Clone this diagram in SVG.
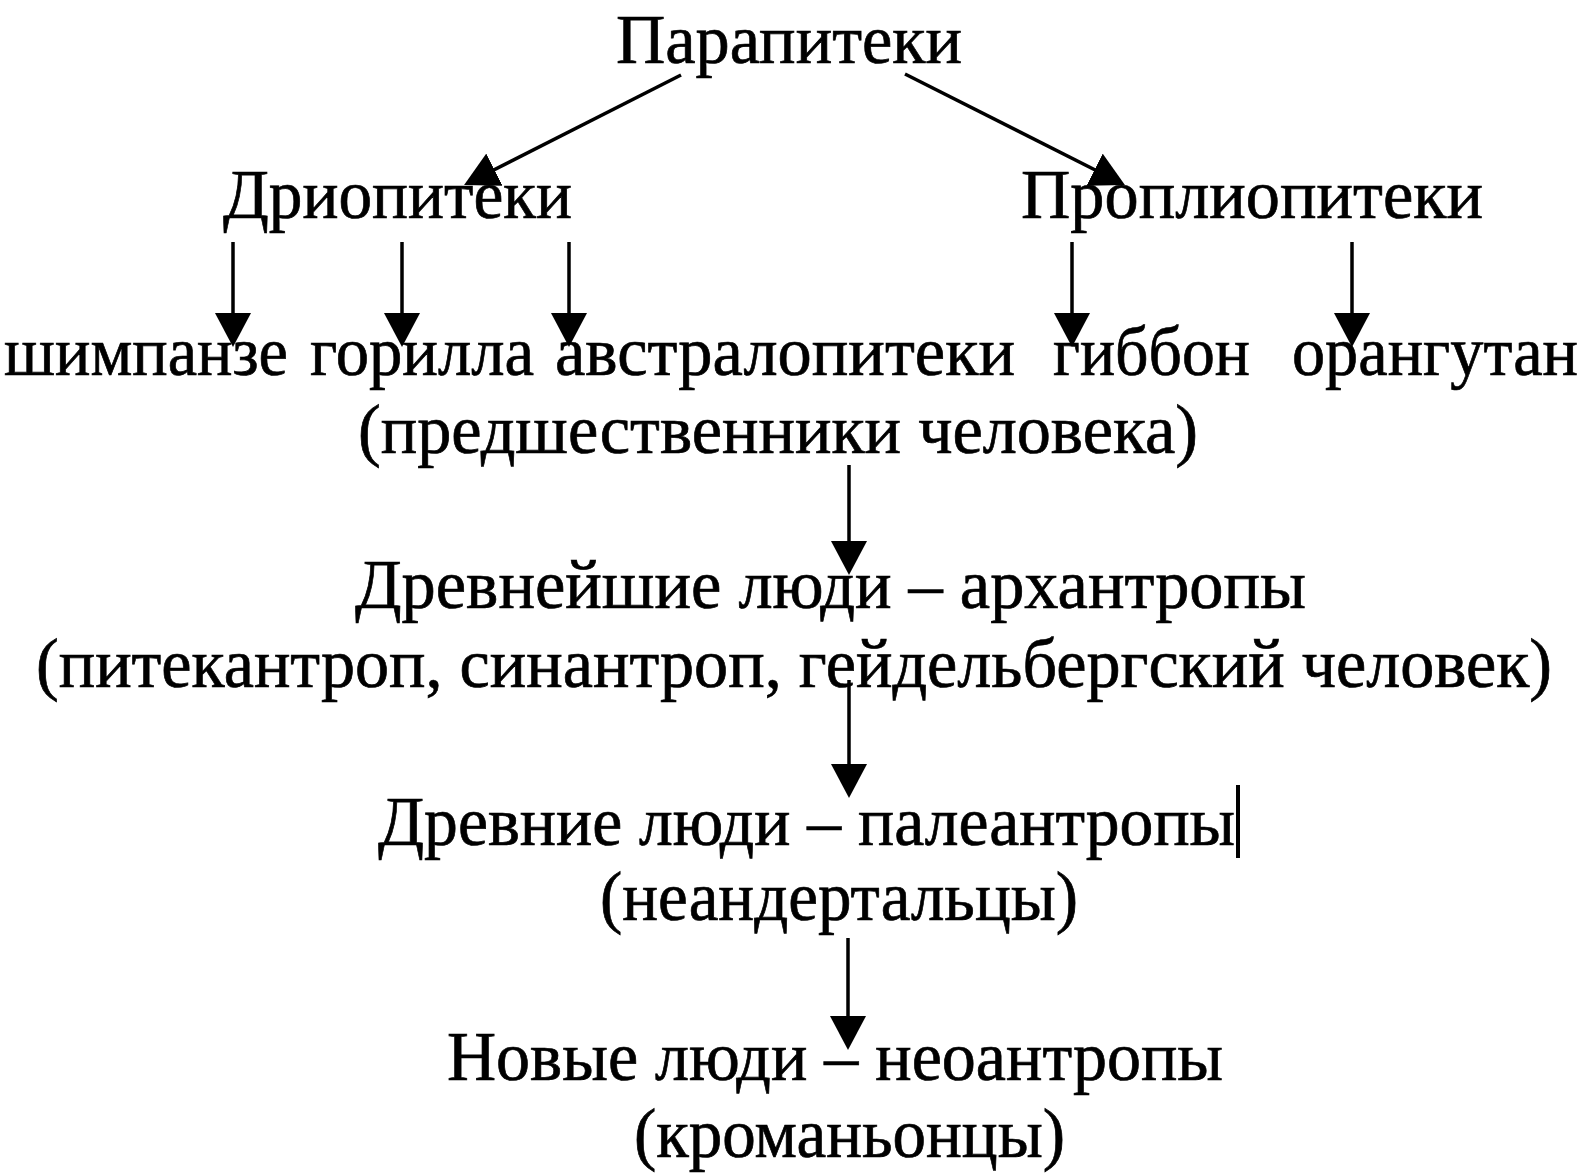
<svg xmlns="http://www.w3.org/2000/svg" width="1596" height="1173" viewBox="0 0 1596 1173">
<style>
text{font-family:"Liberation Serif","Times New Roman",serif;font-size:70px;fill:#000;stroke:#000;stroke-width:0.7px;}
.c line{stroke:#000;stroke-width:3.5;fill:none;}
</style>
<defs>
<marker id="ah" markerUnits="userSpaceOnUse" markerWidth="34" markerHeight="36" refX="24" refY="18" orient="auto">
<path d="M0,0 L34,18 L0,36 z" fill="#000"/>
</marker>
</defs>
<rect width="1596" height="1173" fill="#fff"/>
<g id="n-parapiteki"><text x="616" y="63" textLength="346" lengthAdjust="spacingAndGlyphs">Парапитеки</text></g>
<g id="n-driopiteki"><text x="223" y="218" textLength="349" lengthAdjust="spacingAndGlyphs">Дриопитеки</text></g>
<g id="n-propliopiteki"><text x="1021" y="218" textLength="462" lengthAdjust="spacingAndGlyphs">Проплиопитеки</text></g>
<g id="n-shimpanze"><text x="4" y="375" textLength="284" lengthAdjust="spacingAndGlyphs">шимпанзе</text></g>
<g id="n-gorilla"><text x="310" y="375" textLength="224" lengthAdjust="spacingAndGlyphs">горилла</text></g>
<g id="n-avstralopiteki">
<text x="555" y="375" textLength="460" lengthAdjust="spacingAndGlyphs">австралопитеки</text>
<text x="358" y="453" textLength="840" lengthAdjust="spacingAndGlyphs">(предшественники человека)</text>
</g>
<g id="n-gibbon"><text x="1053" y="375" textLength="197" lengthAdjust="spacingAndGlyphs">гиббон</text></g>
<g id="n-orangutan"><text x="1292" y="375" textLength="286" lengthAdjust="spacingAndGlyphs">орангутан</text></g>
<g id="n-arkhantropy">
<text x="355" y="608" textLength="951" lengthAdjust="spacingAndGlyphs">Древнейшие люди – архантропы</text>
<text x="36" y="687" textLength="1516" lengthAdjust="spacingAndGlyphs">(питекантроп, синантроп, гейдельбергский человек)</text>
</g>
<g id="n-paleantropy">
<text x="378" y="845" textLength="857" lengthAdjust="spacingAndGlyphs">Древние люди – палеантропы</text>
<rect x="1236" y="785" width="4" height="73" fill="#000"/>
<text x="600" y="920" textLength="478" lengthAdjust="spacingAndGlyphs">(неандертальцы)</text>
</g>
<g id="n-neoantropy">
<text x="447" y="1080" textLength="776" lengthAdjust="spacingAndGlyphs">Новые люди – неоантропы</text>
<text x="634" y="1157" textLength="431" lengthAdjust="spacingAndGlyphs">(кроманьонцы)</text>
</g>
<g id="connectors" class="c">
<line x1="681" y1="75" x2="473" y2="180.5" marker-end="url(#ah)"/>
<line x1="905" y1="74" x2="1116" y2="180.5" marker-end="url(#ah)"/>
<line x1="233" y1="242" x2="233" y2="337" marker-end="url(#ah)"/>
<line x1="402" y1="242" x2="402" y2="337" marker-end="url(#ah)"/>
<line x1="569" y1="242" x2="569" y2="337" marker-end="url(#ah)"/>
<line x1="1072" y1="242" x2="1072" y2="337" marker-end="url(#ah)"/>
<line x1="1352" y1="242" x2="1352" y2="337" marker-end="url(#ah)"/>
<line x1="849" y1="465" x2="849" y2="565" marker-end="url(#ah)"/>
<line x1="849" y1="680" x2="849" y2="788" marker-end="url(#ah)"/>
<line x1="848" y1="938" x2="848" y2="1040" marker-end="url(#ah)"/>
</g>
</svg>
